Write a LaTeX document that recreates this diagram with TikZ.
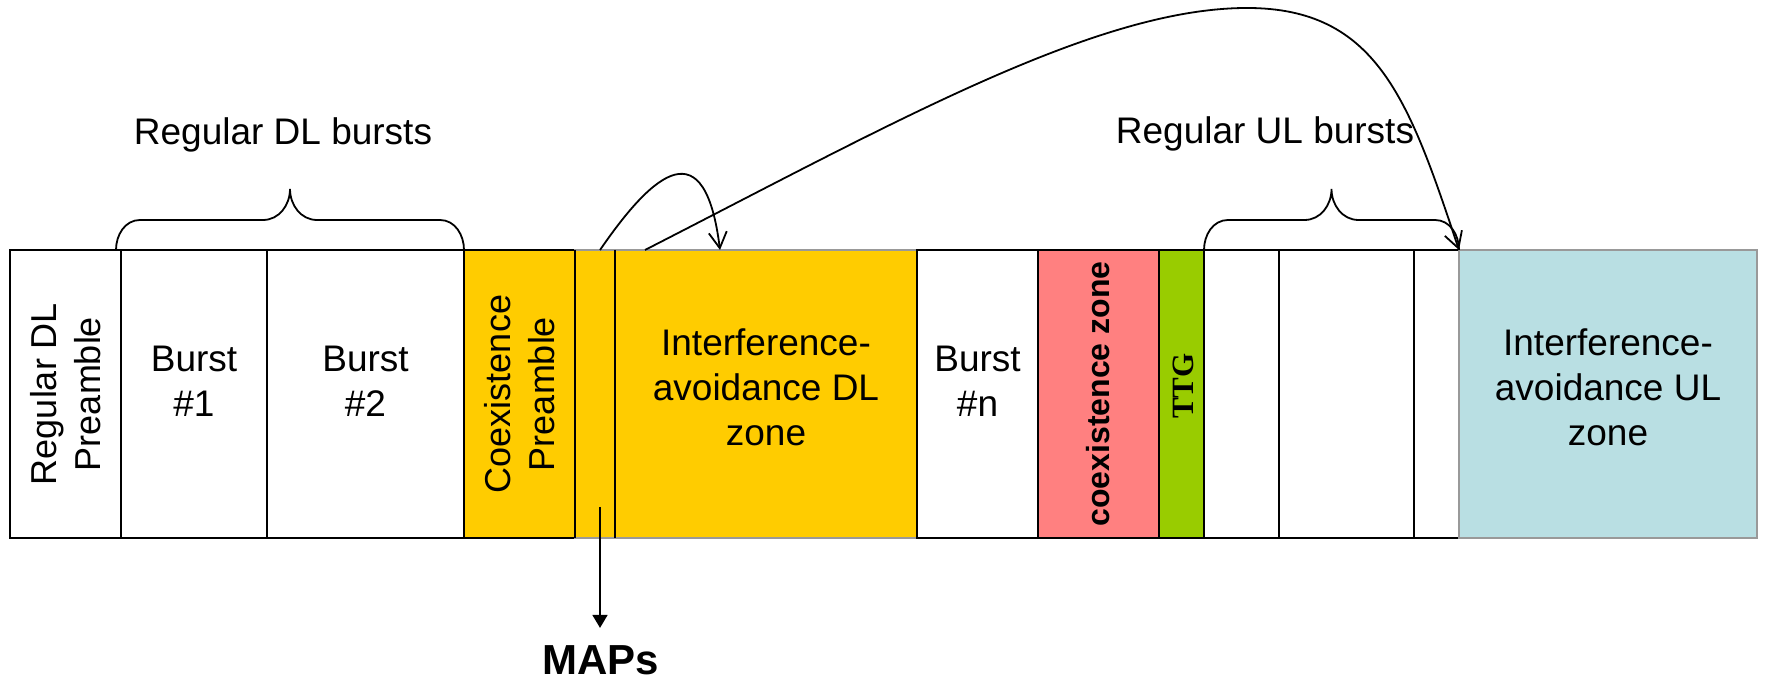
\documentclass[tikz,border=0pt]{standalone}
\usepackage{fontspec}
\setmainfont{Liberation Sans}
\newfontfamily\ttgfont{Liberation Serif}
\usetikzlibrary{positioning,arrows.meta}
\definecolor{zoneyellow}{HTML}{FFCC00}
\definecolor{zonepink}{HTML}{FF8080}
\definecolor{zonegreen}{HTML}{99CC00}
\definecolor{zoneblue}{HTML}{B9DFE3}
\definecolor{zonegrey}{HTML}{999999}

\begin{document}
\begin{tikzpicture}
[
x=1pt, y=1pt,
frame box/.style={rectangle, draw, line width=1.8pt, minimum height=288pt, inner sep=0pt, outer sep=0pt},
frame yellowbox/.style={frame box, fill=zoneyellow, draw=zonegrey},
frame text/.style={font=\fontsize{37}{45}\selectfont, align=center},
frame verticaltext/.style={font=\fontsize{36}{44}\selectfont, align=center, rotate=90},
frame boldverticaltext/.style={font=\bfseries\fontsize{32}{38}\selectfont, rotate=90},
frame ttgtext/.style={font=\ttgfont\bfseries\fontsize{31}{36}\selectfont, rotate=90},
frame maptext/.style={font=\bfseries\fontsize{42}{50}\selectfont, inner sep=0pt, text depth=0pt},
frame brace/.style={line width=1.8pt},
frame arrow/.style={line width=1.8pt, -{Straight Barb[length=16pt, width=18pt]}}
]
\useasboundingbox (0,0) rectangle (1768,684);

% downlink subframe
\node[frame box, minimum width=111pt, anchor=south west] (pre) at (10,146) {};
\node[frame verticaltext] (pretext) at (pre) {Regular DL\\Preamble};
\node[frame box, minimum width=146pt, right=0pt of pre] (b1) {};
\node[frame text] (b1text) at ([yshift=13pt]b1.center) {Burst\\\#1};
\node[frame box, minimum width=197pt, right=0pt of b1] (b2) {};
\node[frame text] (b2text) at ([yshift=13pt]b2.center) {Burst\\\#2};
\node[frame box, fill=zoneyellow, minimum width=111pt, right=0pt of b2] (cpre) {};
\node[frame verticaltext] (cpretext) at (cpre) {Coexistence\\Preamble};
\node[frame yellowbox, minimum width=40pt, right=0pt of cpre] (maps) {};
\node[frame yellowbox, minimum width=302pt, right=0pt of maps] (iadl) {};
\node[frame text] (iadltext) at ([yshift=7pt]iadl.center) {Interference-\\avoidance DL\\zone};
\draw[line width=1.8pt] (maps.north west) -- (maps.south west);
\draw[line width=1.8pt] (maps.north east) -- (maps.south east);

% uplink subframe
\node[frame box, minimum width=121pt, right=0pt of iadl] (bn) {};
\node[frame text] (bntext) at ([yshift=13pt]bn.center) {Burst\\\#n};
\node[frame box, fill=zonepink, minimum width=121pt, right=0pt of bn] (cz) {};
\node[frame boldverticaltext] (cztext) at (cz) {coexistence zone};
\node[frame box, fill=zonegreen, minimum width=45pt, right=0pt of cz] (ttg) {};
\node[frame ttgtext] (ttgtext) at ([xshift=2pt, yshift=8pt]ttg.center) {TTG};
\node[frame box, minimum width=75pt, right=0pt of ttg] (u1) {};
\node[frame box, minimum width=135pt, right=0pt of u1] (u2) {};
\node[frame box, minimum width=45pt, right=0pt of u2] (u3) {};
\node[frame box, fill=zoneblue, draw=zonegrey, minimum width=298pt, right=0pt of u3] (iaul) {};
\node[frame text] (iaultext) at ([yshift=7pt]iaul.center) {Interference-\\avoidance UL\\zone};

% braces
\draw[frame brace] ([xshift=-5pt]b1.north west) to[out=90,in=180] ++(24,30) -- ++(123,0)
  to[out=0,in=-90] ++(27,31) to[out=-90,in=180] ++(27,-31) -- ++(123,0) to[out=0,in=90] (b2.north east);
\draw[frame brace] (u1.north west) to[out=90,in=180] ++(24,30) -- ++(76.5,0)
  to[out=0,in=-90] ++(27,31) to[out=-90,in=180] ++(27,-31) -- ++(76.5,0) to[out=0,in=90] (u3.north east);
\node[frame text, anchor=base] (dllabel) at (283,539) {Regular DL bursts};
\node[frame text, anchor=base] (ullabel) at (1265,540) {Regular UL bursts};

% pointers from the MAPs
\draw[frame arrow] ([xshift=5pt]maps.north) .. controls +(55,80) and +(-15,120) .. ([xshift=105pt]iadl.north west);
\draw[frame arrow] ([xshift=30pt]iadl.north west) .. controls +(250,128) and +(-150,0) .. ++(602,242)
  .. controls +(130,0) and +(-50,150) .. (iaul.north west);
\node[frame maptext, anchor=base] (mapstext) at (601,9) {MAPs};
\draw[line width=1.8pt, -{Triangle[length=13pt, width=15pt]}] ([xshift=5pt, yshift=31pt]maps.south) -- ([xshift=-1pt, yshift=18pt]mapstext.north);

\end{tikzpicture}
\end{document}
